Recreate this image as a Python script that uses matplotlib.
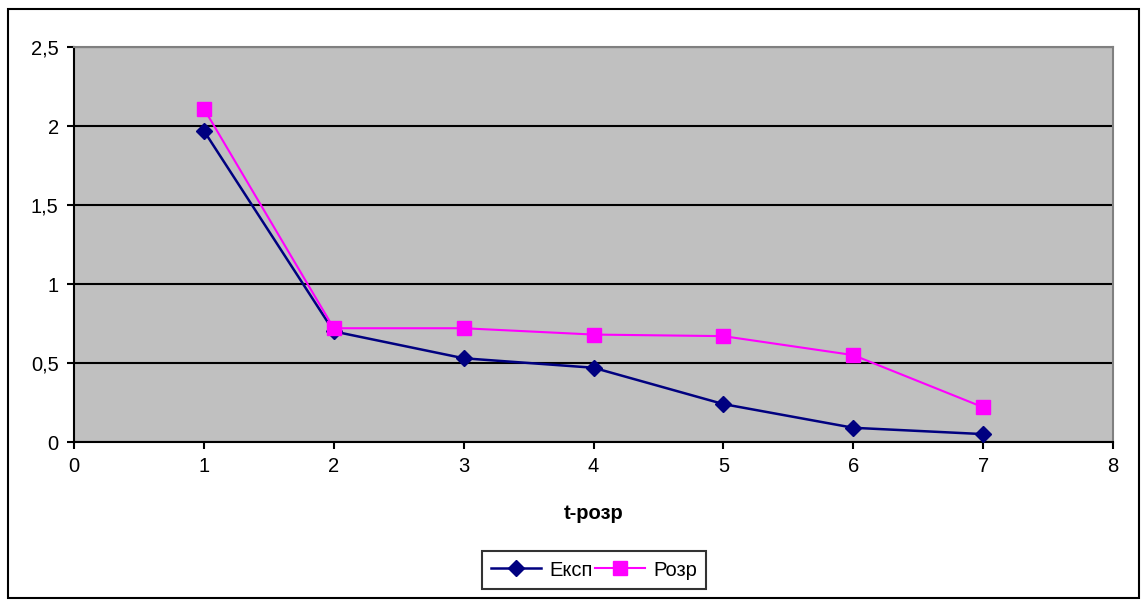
import matplotlib.pyplot as plt
from matplotlib.ticker import FuncFormatter, MultipleLocator
from matplotlib.patches import Rectangle

plt.rcParams['font.family'] = ['Liberation Sans', 'DejaVu Sans']

# values
t = [1, 2, 3, 4, 5, 6, 7]
eksp = [1.97, 0.70, 0.53, 0.47, 0.24, 0.09, 0.05]
rozr = [2.11, 0.72, 0.72, 0.68, 0.67, 0.55, 0.22]
series_names = ['Експ', 'Розр']
x_label = 't-розр'

fs = 14.5

fig = plt.figure(figsize=(11.42, 6.01), dpi=100)
ax = fig.add_axes([74 / 1142, 1 - 442 / 601, (1113 - 74) / 1142, (442 - 47) / 601])

# outer chart border
fig.patches.append(Rectangle((8 / 1142, 1 - 598 / 601), (1139 - 8) / 1142, (598 - 9) / 601,
                             transform=fig.transFigure, fill=False, edgecolor='black', linewidth=1.5))

ax.set_facecolor('#C0C0C0')
ax.plot(t, eksp, color='#000080', marker='D', markersize=8, linewidth=1.8,
        label=series_names[0], zorder=3)
ax.plot(t, rozr, color='#FF00FF', marker='s', markersize=10, linewidth=1.5,
        label=series_names[1], zorder=3)

ax.set_xlim(0, 8)
ax.set_ylim(0, 2.5)
ax.xaxis.set_major_locator(MultipleLocator(1))
ax.yaxis.set_major_locator(MultipleLocator(0.5))


def comma_formatter(x, pos):
    s = f'{x:g}'
    return s.replace('.', ',')


ax.yaxis.set_major_formatter(FuncFormatter(comma_formatter))
ax.xaxis.set_major_formatter(FuncFormatter(comma_formatter))

ax.grid(True, axis='y', color='black', linewidth=1.5)
ax.set_axisbelow(True)
ax.tick_params(direction='out', length=5, width=1.5, labelsize=fs, pad=6)

for side in ['top', 'right']:
    ax.spines[side].set_color('#808080')
    ax.spines[side].set_linewidth(1.5)
for side in ['left', 'bottom']:
    ax.spines[side].set_linewidth(1.5)

ax.set_xlabel(x_label, fontsize=fs, fontweight='bold', labelpad=20)

leg = fig.legend(loc='center', bbox_to_anchor=(594 / 1142, 1 - 570 / 601), ncol=2,
                 fontsize=fs, frameon=True, fancybox=False, edgecolor='black',
                 handlelength=2.5, columnspacing=0.1, handletextpad=0.4, borderpad=0.45)
leg.get_frame().set_linewidth(1.5)

fig.savefig('out.png', dpi=100)
